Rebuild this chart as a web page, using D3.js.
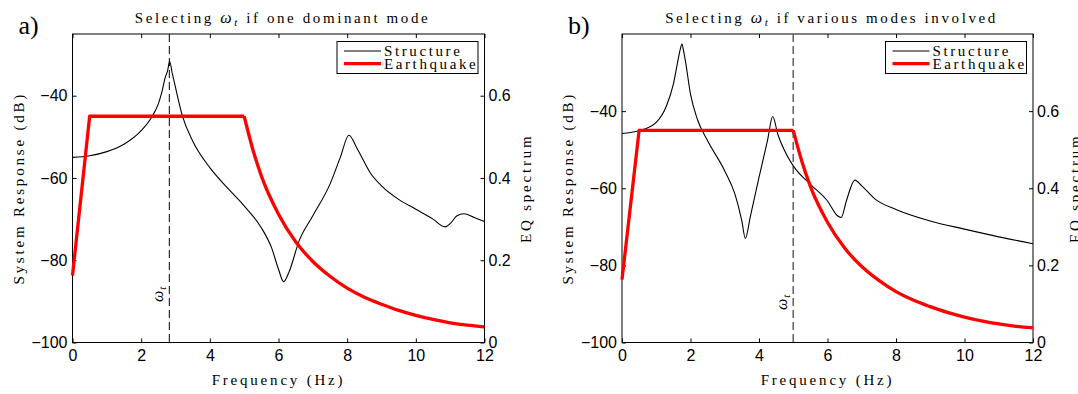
<!DOCTYPE html>
<html>
<head>
<meta charset="utf-8">
<script src="https://cdn.jsdelivr.net/npm/d3@7"></script>
<style>
  html, body { margin: 0; padding: 0; background: #fff; }
  svg { display: block; }
  .tick text { font-family: "Liberation Sans", Arial, sans-serif; font-size: 16px; fill: #000; }
  .tick line { stroke: #000; stroke-width: 1; }
  .serif { font-family: "Liberation Serif", "Times New Roman", serif; fill: #000; }
</style>
</head>
<body>
<svg id="chart" width="1078" height="394"></svg>
<script>
// ---------- DATA ----------
const xTicks = [0, 2, 4, 6, 8, 10, 12];
const yTicksLeft = [-100, -80, -60, -40];
const yTicksRight = [0, 0.2, 0.4, 0.6];

const titlesA = ["Selecting ", "ω", "t", " if one dominant mode"];
const titlesB = ["Selecting ", "ω", "t", " if various modes involved"];
const panelLabels = ["a)", "b)"];
const legendLabels = ["Structure", "Earthquake"];
const xTitle = "Frequency (Hz)";
const yTitleLeft = "System Response (dB)";
const yTitleRight = "EQ spectrum";

// Structure response, panel a (Hz, dB)
const freqA = [0, 0.5, 1, 1.5, 2, 2.3, 2.5, 2.6, 2.7, 2.77, 2.83, 2.9, 3.0, 3.2, 3.5, 4, 4.5, 5, 5.5, 5.8, 6.0, 6.15, 6.3, 6.6, 7, 7.5, 7.8, 8.05, 8.3, 8.7, 9, 9.5, 10, 10.5, 10.85, 11.0, 11.2, 11.4, 11.7, 12];
const respA = [-55.0, -54.6, -53.6, -51.8, -48.5, -45.3, -42.0, -39.2, -35.6, -33.9, -31.7, -34.3, -38.0, -44.9, -51.0, -57.5, -62.3, -66.8, -72.1, -77.0, -82.2, -85.2, -83.0, -75.3, -69.2, -61.5, -55.0, -49.6, -53.0, -59.1, -61.9, -65.2, -67.6, -70.0, -71.9, -71.1, -69.2, -68.7, -69.6, -70.6];

// Structure response, panel b (Hz, dB)
const freqB = [0, 0.5, 1, 1.3, 1.5, 1.65, 1.7, 1.75, 1.8, 1.85, 2.0, 2.2, 2.5, 3, 3.3, 3.5, 3.6, 3.75, 4.0, 4.25, 4.4, 4.55, 4.8, 5, 5.5, 6, 6.3, 6.4, 6.55, 6.8, 7.0, 7.4, 8, 9, 10, 11, 12];
const respB = [-45.8, -45.1, -42.9, -38.6, -33.0, -26.1, -24.0, -22.6, -24.5, -26.9, -35.6, -42.1, -47.7, -55.5, -61.6, -68.5, -73.0, -67.2, -57.2, -47.5, -41.4, -46.0, -51.2, -54.2, -59.0, -63.3, -67.2, -67.6, -63.3, -57.9, -59.4, -62.9, -65.5, -68.5, -70.6, -72.6, -74.4];

// Earthquake spectrum (Hz, amplitude) – same in both panels
const eqFreq = [0, 0.5, 5, 5.25, 5.5, 6, 6.5, 7, 7.5, 8, 8.5, 9, 9.5, 10, 10.5, 11, 11.5, 12];
const eqAmp  = [0.163, 0.55, 0.55, 0.47, 0.405, 0.312, 0.245, 0.197, 0.161, 0.132, 0.11, 0.093, 0.078, 0.066, 0.056, 0.048, 0.042, 0.038];

const omegaT = [2.82, 5.0];
const leftDomains = [[-100, -25], [-100, -20]];
const rightDomains = [[0, 0.75], [0, 0.8]];

// ---------- LAYOUT ----------
const svg = d3.select("#chart");
const panels = [
  { left: 72.5, right: 484.5, top: 34, bottom: 342.5, freq: freqA, resp: respA, title: titlesA, dashColor: "#000", dashWidth: 1 },
  { left: 622, right: 1033, top: 34, bottom: 342.5, freq: freqB, resp: respB, title: titlesB, dashColor: "#666", dashWidth: 1.6 }
];

const LS = "2.6px";

panels.forEach((p, i) => {
  const g = svg.append("g");
  const x = d3.scaleLinear().domain([0, 12]).range([p.left, p.right]);
  const yL = d3.scaleLinear().domain(leftDomains[i]).range([p.bottom, p.top]);
  const yR = d3.scaleLinear().domain(rightDomains[i]).range([p.bottom, p.top]);

  // axes (inward ticks, MATLAB style)
  const ax = g.append("g").attr("transform", `translate(0,${p.bottom})`)
    .call(d3.axisBottom(x).tickValues(xTicks).tickSizeInner(-4).tickSizeOuter(0).tickPadding(7).tickFormat(d3.format("d")));
  const axT = g.append("g").attr("transform", `translate(0,${p.top})`)
    .call(d3.axisTop(x).tickValues(xTicks).tickSizeInner(-4).tickSizeOuter(0).tickFormat(""));
  const ayL = g.append("g").attr("transform", `translate(${p.left},0)`)
    .call(d3.axisLeft(yL).tickValues(yTicksLeft).tickSizeInner(-4).tickSizeOuter(0).tickPadding(5));
  const ayR = g.append("g").attr("transform", `translate(${p.right},0)`)
    .call(d3.axisRight(yR).tickValues(yTicksRight).tickSizeInner(-4).tickSizeOuter(0).tickPadding(4).tickFormat(d3.format("~g")));
  [ax, axT, ayL, ayR].forEach(a => a.select(".domain").remove());

  // frame
  g.append("rect")
    .attr("x", p.left).attr("y", p.top)
    .attr("width", p.right - p.left).attr("height", p.bottom - p.top)
    .attr("fill", "none").attr("stroke", "#000").attr("stroke-width", 1);

  // dashed omega_t line
  g.append("line")
    .attr("x1", x(omegaT[i])).attr("x2", x(omegaT[i]))
    .attr("y1", p.top).attr("y2", p.bottom)
    .attr("stroke", p.dashColor).attr("stroke-width", p.dashWidth)
    .attr("stroke-dasharray", "8,4");

  // omega_t label (rotated)
  const wl = g.append("text").attr("class", "serif")
    .attr("transform", `translate(${x(omegaT[i]) - 6},${(i === 0 ? 302 : 310)}) rotate(-90)`)
    .attr("font-size", "16px");
  wl.append("tspan").attr("font-style", "italic").text("ω");
  wl.append("tspan").attr("font-style", "italic").attr("font-size", "11px").attr("dy", "3").attr("dx", "1").text("t");

  // structure line
  const lineS = d3.line().x(d => x(d[0])).y(d => yL(d[1])).curve(d3.curveMonotoneX);
  g.append("path")
    .datum(p.freq.map((f, k) => [f, p.resp[k]]))
    .attr("d", lineS)
    .attr("fill", "none").attr("stroke", "#000").attr("stroke-width", 1.1);

  // earthquake line: linear ramp/plateau + smooth decay
  const eqPts = eqFreq.map((f, k) => [f, eqAmp[k]]);
  const rampPts = eqPts.filter(d => d[0] <= 5);
  const decayPts = eqPts.filter(d => d[0] >= 5);
  const lineLin = d3.line().x(d => x(d[0])).y(d => yR(d[1]));
  const lineSm = d3.line().x(d => x(d[0])).y(d => yR(d[1])).curve(d3.curveMonotoneX);
  g.append("path").datum(rampPts).attr("d", lineLin)
    .attr("fill", "none").attr("stroke", "#ff0000").attr("stroke-width", 3.3).attr("stroke-linejoin", "round");
  g.append("path").datum(decayPts).attr("d", lineSm)
    .attr("fill", "none").attr("stroke", "#ff0000").attr("stroke-width", 3.3).attr("stroke-linejoin", "round");

  // legend
  const lw = 141, lh = 32;
  const lx = p.right - 6.5 - lw, ly = 41.5;
  const lg = g.append("g").attr("transform", `translate(${lx},${ly})`);
  lg.append("rect").attr("width", lw).attr("height", lh)
    .attr("fill", "#fff").attr("stroke", "#000").attr("stroke-width", 1);
  const legendStyles = [{ c: "#000", w: 1.1 }, { c: "#ff0000", w: 3.3 }];
  legendLabels.forEach((lab, k) => {
    const cy = 9.5 + k * 12.7;
    lg.append("line").attr("x1", 7).attr("x2", 44).attr("y1", cy).attr("y2", cy)
      .attr("stroke", legendStyles[k].c).attr("stroke-width", legendStyles[k].w);
    lg.append("text").attr("class", "serif").attr("x", 47).attr("y", cy + 5)
      .attr("font-size", "15px").attr("letter-spacing", LS).text(lab);
  });

  // title
  const cx = (p.left + p.right) / 2 + 4;
  const t = g.append("text").attr("class", "serif").attr("x", cx).attr("y", 23)
    .attr("text-anchor", "middle").attr("font-size", "15px").attr("letter-spacing", LS);
  t.append("tspan").text(p.title[0]);
  t.append("tspan").attr("font-style", "italic").attr("font-size", "16px").text(p.title[1]);
  t.append("tspan").attr("font-style", "italic").attr("font-size", "11px").attr("dy", "3").text(p.title[2]);
  t.append("tspan").attr("dy", "-3").text(p.title[3]);

  // x title
  g.append("text").attr("class", "serif")
    .attr("x", (p.left + p.right) / 2).attr("y", 385)
    .attr("text-anchor", "middle").attr("font-size", "15px").attr("letter-spacing", "2.8px")
    .text(xTitle);

  // left y title
  g.append("text").attr("class", "serif")
    .attr("transform", `translate(${p.left - 49},${(p.top + p.bottom) / 2}) rotate(-90)`)
    .attr("text-anchor", "middle").attr("font-size", "15px").attr("letter-spacing", "2.8px")
    .text(yTitleLeft);

  // right y title
  g.append("text").attr("class", "serif")
    .attr("transform", `translate(${p.right + 46.5},${(p.top + p.bottom) / 2}) rotate(-90)`)
    .attr("text-anchor", "middle").attr("font-size", "15px").attr("letter-spacing", "2.8px")
    .text(yTitleRight);

  // panel label
  g.append("text").attr("class", "serif")
    .attr("x", p.left - 54).attr("y", 34)
    .attr("font-size", "26px")
    .text(panelLabels[i]);
});
</script>
</body>
</html>
